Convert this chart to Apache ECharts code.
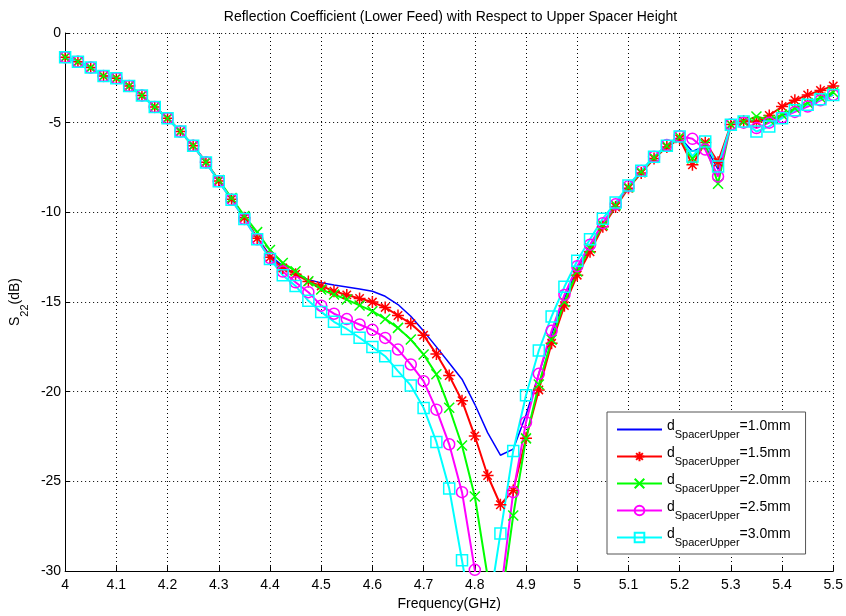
<!DOCTYPE html>
<html>
<head>
<meta charset="utf-8">
<script src="https://cdn.jsdelivr.net/npm/echarts@6/dist/echarts.min.js"></script>
<style>html,body{margin:0;padding:0;background:#fff}#c{width:846px;height:616px}</style>
</head>
<body>
<div id="c"></div>
<script>
// Frequency samples (GHz)
var freq = [4.000,4.025,4.050,4.075,4.100,4.125,4.150,4.175,4.200,4.225,4.250,4.275,4.300,4.325,4.350,4.375,4.400,4.425,4.450,4.475,4.500,4.525,4.550,4.575,4.600,4.625,4.650,4.675,4.700,4.725,4.750,4.775,4.800,4.825,4.850,4.875,4.900,4.925,4.950,4.975,5.000,5.025,5.050,5.075,5.100,5.125,5.150,5.175,5.200,5.225,5.250,5.275,5.300,5.325,5.350,5.375,5.400,5.425,5.450,5.475,5.500];

// S22 (dB) for each upper spacer height
var s10 = [-1.35,-1.60,-1.93,-2.40,-2.52,-2.95,-3.48,-4.12,-4.75,-5.49,-6.29,-7.20,-8.25,-9.27,-10.30,-11.40,-12.40,-13.00,-13.45,-13.75,-13.93,-14.05,-14.16,-14.27,-14.40,-14.68,-15.14,-15.79,-16.62,-17.50,-18.40,-19.30,-20.70,-22.28,-23.54,-23.20,-21.30,-19.00,-16.80,-14.80,-13.10,-11.85,-10.70,-9.60,-8.60,-7.75,-6.95,-6.30,-5.80,-6.60,-6.30,-7.60,-5.10,-4.95,-4.90,-4.85,-4.60,-4.30,-3.95,-3.65,-3.35];
var s15 = [-1.35,-1.60,-1.93,-2.40,-2.52,-2.95,-3.48,-4.12,-4.75,-5.49,-6.29,-7.20,-8.25,-9.27,-10.30,-11.45,-12.50,-13.10,-13.45,-13.85,-14.10,-14.40,-14.60,-14.80,-15.00,-15.30,-15.75,-16.20,-16.85,-17.90,-19.10,-20.50,-22.47,-24.67,-26.30,-25.50,-22.60,-19.90,-17.30,-15.20,-13.50,-12.20,-10.80,-9.70,-8.65,-7.80,-7.00,-6.35,-5.90,-7.35,-6.10,-7.20,-5.10,-4.90,-4.95,-4.60,-4.10,-3.75,-3.45,-3.20,-2.95];
var s20 = [-1.35,-1.60,-1.93,-2.40,-2.52,-2.95,-3.48,-4.12,-4.75,-5.49,-6.29,-7.20,-8.20,-9.20,-10.20,-11.10,-12.10,-12.82,-13.28,-13.84,-14.30,-14.58,-14.86,-15.19,-15.51,-15.94,-16.44,-17.09,-17.92,-19.03,-20.89,-23.00,-25.84,-30.30,-32.10,-26.90,-22.60,-19.60,-17.10,-15.00,-13.30,-12.00,-10.70,-9.60,-8.60,-7.75,-6.95,-6.30,-5.80,-7.00,-6.20,-8.40,-5.10,-4.95,-4.65,-4.85,-4.55,-4.20,-3.90,-3.60,-3.30];
var s25 = [-1.35,-1.60,-1.93,-2.40,-2.52,-2.95,-3.48,-4.12,-4.75,-5.49,-6.29,-7.20,-8.27,-9.29,-10.37,-11.50,-12.55,-13.30,-13.90,-14.45,-15.20,-15.65,-15.95,-16.25,-16.55,-17.00,-17.65,-18.48,-19.41,-21.00,-22.93,-25.60,-29.93,-34.50,-31.40,-25.60,-21.70,-19.00,-16.60,-14.60,-13.00,-11.80,-10.60,-9.55,-8.55,-7.70,-6.90,-6.25,-5.75,-5.90,-6.50,-8.00,-5.10,-5.00,-5.30,-5.00,-4.70,-4.40,-4.10,-3.75,-3.45];
var s30 = [-1.35,-1.60,-1.93,-2.40,-2.52,-2.95,-3.48,-4.12,-4.75,-5.49,-6.29,-7.22,-8.27,-9.29,-10.37,-11.50,-12.60,-13.50,-14.10,-14.93,-15.55,-16.10,-16.50,-16.99,-17.50,-18.02,-18.85,-19.65,-20.90,-22.80,-25.40,-29.40,-33.60,-32.50,-27.90,-23.30,-20.20,-17.70,-15.80,-14.15,-12.70,-11.50,-10.35,-9.45,-8.50,-7.68,-6.90,-6.28,-5.77,-6.88,-6.05,-7.44,-5.12,-4.94,-5.49,-5.21,-4.75,-4.30,-4.00,-3.70,-3.45];

var names = ['1.0mm','1.5mm','2.0mm','2.5mm','3.0mm'];
var colors = ['#0000ff','#ff0000','#00ff00','#ff00ff','#00ffff'];
var xTicks = [4,5.5,0.1];
var yTicks = [-30,0,5];

function pairs(v){ return freq.map(function(f,i){ return [f, v[i]]; }); }

var starPath = 'path://M0,-10L0,10M-10,0L10,0M-7,-7L7,7M-7,7L7,-7';
var xPath = 'path://M-10,-10L10,10M-10,10L10,-10';

function mk(name, color, data, symbol, size, width, show){
  return {
    name: name, type: 'line', data: pairs(data),
    symbol: symbol, symbolSize: size, showSymbol: show,
    color: color,
    lineStyle: {color: color, width: width},
    itemStyle: {color: 'rgba(255,255,255,0)', borderColor: color, borderWidth: 1.5},
    emphasis: {disabled: true},
    animation: false, z: 2
  };
}

var chart = echarts.init(document.getElementById('c'), null, {renderer: 'canvas'});
var FONT = 'Liberation Sans, Arial, sans-serif';
chart.setOption({
  animation: false,
  backgroundColor: '#fff',
  textStyle: {fontFamily: FONT},
  grid: {left: 65, right: 10, top: 33, bottom: 44, containLabel: false},
  graphic: [{
    type: 'text', x: 450.5, y: 17,
    style: {text: 'Reflection Coefficient (Lower Feed) with Respect to Upper Spacer Height', font: '14px ' + FONT, fill: '#000', textAlign: 'center', textVerticalAlign: 'middle'}
  }],
  xAxis: {
    type: 'value', min: xTicks[0], max: xTicks[1], interval: xTicks[2],
    name: 'Frequency(GHz)', nameLocation: 'middle', nameGap: 25,
    nameTextStyle: {color: '#000', fontSize: 14, fontFamily: FONT},
    axisLine: {show: true, onZero: false, lineStyle: {color: '#000', width: 1}},
    axisTick: {show: true, inside: true, length: 5, lineStyle: {color: '#000'}},
    axisLabel: {color: '#000', fontSize: 14, margin: 7, fontFamily: FONT,
      formatter: function(v){ return String(Math.round(v*10)/10); }},
    splitLine: {show: true, lineStyle: {color: '#000', type: [1,3], width: 1}}
  },
  yAxis: {
    type: 'value', min: yTicks[0], max: yTicks[1], interval: yTicks[2],
    name: '{a|S}{b|22}{a|(dB)}', nameLocation: 'middle', nameGap: 35, nameRotate: 90,
    nameTextStyle: {color: '#000', fontFamily: FONT,
      rich: {a: {fontSize: 14, color: '#000', lineHeight: 16, verticalAlign: 'top', fontFamily: FONT},
             b: {fontSize: 11, color: '#000', lineHeight: 22, verticalAlign: 'bottom', fontFamily: FONT}}},
    axisLine: {show: true, onZero: false, lineStyle: {color: '#000', width: 1}},
    axisTick: {show: true, inside: true, length: 5, lineStyle: {color: '#000'}},
    axisLabel: {color: '#000', fontSize: 14, margin: 4, fontFamily: FONT},
    splitLine: {show: true, lineStyle: {color: '#000', type: [1,3], width: 1}}
  },
  legend: {
    orient: 'vertical', left: 607, top: 412,
    itemWidth: 45, itemHeight: 12, itemGap: 6,
    padding: [7, 15, 6, 9],
    borderColor: '#555', borderWidth: 1, backgroundColor: '#fff',
    data: [{name: names[0], itemStyle: {opacity: 0}}, names[1], names[2], names[3], names[4]],
    formatter: function(n){ return '{d|d}{s|SpacerUpper}{d|=' + n + '}'; },
    textStyle: {color: '#000', fontFamily: FONT,
      rich: {d: {fontSize: 14, color: '#000', lineHeight: 15, verticalAlign: 'top', fontFamily: FONT},
             s: {fontSize: 11, color: '#000', lineHeight: 21, verticalAlign: 'bottom', fontFamily: FONT}}}
  },
  series: [
    mk(names[0], colors[0], s10, 'circle', 1, 1.5, false),
    mk(names[1], colors[1], s15, starPath, 12, 2, true),
    mk(names[2], colors[2], s20, xPath, 10, 2, true),
    mk(names[3], colors[3], s25, 'circle', 11, 2, true),
    mk(names[4], colors[4], s30, 'rect', 11, 2, true)
  ]
});
</script>
</body>
</html>
